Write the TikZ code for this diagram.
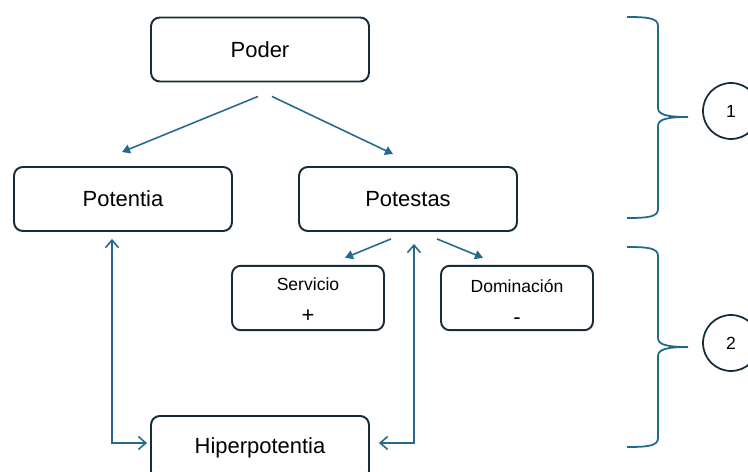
\documentclass[tikz,border=0pt]{standalone}
\usepackage{fontspec}
\setmainfont{Liberation Sans}
\usetikzlibrary{arrows.meta,positioning,calc}
\definecolor{boxC}{RGB}{22,44,58}
\definecolor{arrC}{RGB}{36,106,140}
\definecolor{braceC}{RGB}{30,104,140}
\tikzset{
    box/.style      = {draw=boxC, line width=1.1pt, rounded corners=5pt,
            minimum width=4.36cm, minimum height=1.28cm,
            align=center, font=\fontsize{12.5}{15}\selectfont},
    smallbox/.style = {box, minimum width=3.04cm,
            font=\fontsize{10}{12}\selectfont},
    circ/.style     = {circle, draw=boxC, line width=1pt,
            minimum size=1.12cm, inner sep=0pt,
            font=\fontsize{10}{12}\selectfont},
    line/.style     = {-{Triangle[length=1.6mm,width=1.8mm]}, line width=0.9pt, draw=arrC},
    dline/.style    = {{Straight Barb[length=1.5mm,width=2.6mm]}-{Straight Barb[length=1.5mm,width=2.6mm]},
            line width=0.9pt, draw=arrC},
    brace/.style    = {draw=braceC, line width=1pt},
}
\newcommand{\RBrace}[3]{% ytop, ytip, ybottom
    \draw[brace] (627,#1) .. controls (648,#1) and (658,#1+1) .. (658,#1+9)
        -- (658,#2-9) .. controls (658,#2-2) and (668,#2) .. (688,#2)
        .. controls (668,#2) and (658,#2+2) .. (658,#2+9)
        -- (658,#3-9) .. controls (658,#3-1) and (648,#3) .. (627,#3);
}
\newcommand{\TwoLine}[3]{% shift, name, sign
    \raisebox{#1}[\height][\depth]{\begin{tabular}{@{}c@{}}#2\\[6pt]{\fontsize{12.5}{15}\selectfont #3}\end{tabular}}%
}

\begin{document}
\begin{tikzpicture}[x=0.02cm, y=-0.02cm]
    \useasboundingbox (0,0) rectangle (748,472);
    \clip (0,0) rectangle (748,472);

    % main boxes
    \node[box] (poder)    at (260,49.5) {Poder};
    \node[box] (potentia) at (123,199)  {Potentia};
    \node[box] (potestas) at (408,199)  {Potestas};
    \node[box] (hiper)    at (260,448)  {Hiperpotentia};

    % kinds of potestas
    \node[smallbox] (servicio)   at (308,298) {\TwoLine{-2.5pt}{Servicio}{+}};
    \node[smallbox] (dominacion) at (517,298) {\TwoLine{-3.5pt}{Dominación}{-}};

    % arrows
    \draw[line] ($(poder.south)+(-2,14)$) -- ($(potentia.north)+(-1,-14)$);
    \draw[line] ($(poder.south)+(12,14)$) -- ($(potestas.north)+(-15,-12)$);
    \draw[line] ($(potestas.south)+(-17,7)$) -- ($(servicio.north)+(37,-7)$);
    \draw[line] ($(potestas.south)+(29,7)$) -- ($(dominacion.north)+(-34,-7)$);

    % both ways to hiperpotentia
    \draw[dline] ($(potentia.south)+(-11,7)$) |- ($(hiper.west)+(-3,-5)$);
    \draw[dline] ($(potestas.south)+(6,12)$) |- ($(hiper.east)+(9,-5)$);

    % braces and levels
    \RBrace{17}{117}{218}
    \RBrace{247}{347}{447}
    \node[circ] (one) at (731,111) {1};
    \node[circ] (two) at (731,343) {2};
\end{tikzpicture}
\end{document}
